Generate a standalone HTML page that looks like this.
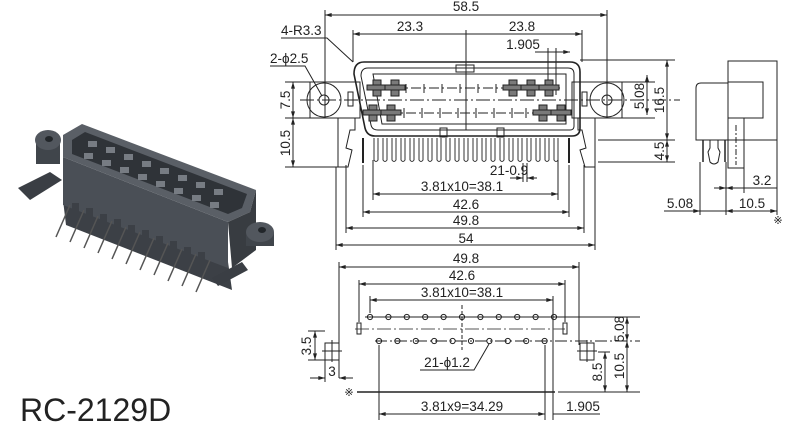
<!DOCTYPE html>
<html><head><meta charset="utf-8"><style>
html,body{margin:0;padding:0;background:#fff;}
svg{display:block;font-family:"Liberation Sans",sans-serif;}
</style></head><body>
<svg width="800" height="431" viewBox="0 0 800 431" xmlns="http://www.w3.org/2000/svg">
<defs>
<marker id="a" viewBox="0 0 10 6" refX="10" refY="3" markerWidth="8" markerHeight="4" orient="auto-start-reverse"><path d="M0,0L10,3L0,6z" fill="#222"/></marker>
</defs>
<g stroke="#222" fill="none" stroke-width="1">
<!-- photo -->
<g stroke="none">
<polygon points="18,188 50,172 62,180 30,200" fill="#3a3e44"/>
<rect x="36" y="140" width="24" height="24" fill="#40454b"/>
<ellipse cx="48" cy="140" rx="13" ry="10" fill="#52575e"/>
<ellipse cx="49" cy="139" rx="4" ry="3" fill="#22262a"/>
<polygon points="63,200 228,262 232,290 66,225" fill="#3c4046"/>
<polygon points="63,157 228,222 228,268 63,205" fill="#4a4f56"/>
<polygon points="63,135 82,124 256,190 250,212 228,222 63,157" fill="#5a5f66"/>
<polygon points="72,140 85,132 247,194 242,208 228,214 72,154" fill="#2f3338"/>
<polygon points="228,222 250,212 256,190 256,250 232,268" fill="#383c41"/>
<rect x="246" y="232" width="28" height="14" fill="#40454b"/>
<ellipse cx="260" cy="232" rx="14" ry="10" fill="#52575e"/>
<ellipse cx="262" cy="230" rx="4" ry="3" fill="#22262a"/>
<polygon points="212,278 242,262 248,270 218,286" fill="#3a3e44"/>
</g>
<g fill="#777c83" stroke="none">
<rect x="88" y="141" width="9" height="6"/><rect x="106" y="147" width="9" height="6"/><rect x="124" y="154" width="9" height="6"/><rect x="142" y="161" width="9" height="6"/><rect x="160" y="168" width="9" height="6"/><rect x="178" y="175" width="9" height="6"/><rect x="196" y="182" width="9" height="6"/><rect x="214" y="189" width="9" height="6"/>
<rect x="84" y="153" width="9" height="6"/><rect x="102" y="160" width="9" height="6"/><rect x="120" y="167" width="9" height="6"/><rect x="138" y="174" width="9" height="6"/><rect x="156" y="181" width="9" height="6"/><rect x="174" y="188" width="9" height="6"/><rect x="192" y="195" width="9" height="6"/><rect x="210" y="202" width="9" height="6"/>
</g>
<g stroke="#555" stroke-width="1.5">
<path d="M70,205 l-14,32 M84,210 l-14,32 M98,216 l-14,32 M112,221 l-14,32 M126,227 l-14,32 M140,232 l-14,32 M154,238 l-14,32 M168,243 l-14,32 M182,249 l-14,32 M196,254 l-14,32 M210,260 l-14,32"/>
</g>
<g fill="#3c4046" stroke="none">
<rect x="72" y="203" width="7" height="12"/><rect x="86" y="208" width="7" height="12"/><rect x="100" y="214" width="7" height="12"/><rect x="114" y="219" width="7" height="12"/><rect x="128" y="225" width="7" height="12"/><rect x="142" y="230" width="7" height="12"/><rect x="156" y="236" width="7" height="12"/><rect x="170" y="241" width="7" height="12"/><rect x="184" y="247" width="7" height="12"/><rect x="198" y="252" width="7" height="12"/>
</g>

<!-- top front view -->
<line x1="325" y1="15" x2="607" y2="15" marker-start="url(#a)" marker-end="url(#a)"/>
<line x1="325" y1="10" x2="325" y2="118"/><line x1="607" y1="10" x2="607" y2="118"/>
<line x1="353" y1="34" x2="582" y2="34" marker-start="url(#a)" marker-end="url(#a)"/>
<line x1="353" y1="30" x2="353" y2="62"/><line x1="582" y1="30" x2="582" y2="62"/>
<line x1="466" y1="30" x2="466" y2="130"/>
<line x1="535" y1="52" x2="570" y2="52" marker-end="url(#a)"/>
<line x1="548" y1="48" x2="548" y2="95"/><line x1="556" y1="48" x2="556" y2="95"/>
<path d="M281,38 L327,38 L353,62"/>
<path d="M270,66 L305,66 L322,96"/>
<rect x="310" y="82" width="50" height="36"/>
<rect x="572" y="82" width="50" height="36"/>
<circle cx="324" cy="100" r="17"/><circle cx="324" cy="100" r="5"/>
<circle cx="607" cy="100" r="17"/><circle cx="607" cy="100" r="5"/>
<rect x="348" y="92" width="5" height="14"/><rect x="582" y="92" width="5" height="14"/>
<path d="M364,62 L570,62 Q580,62 580,72 L580,128 Q580,136 572,136 L375,136 Q367,136 365,128 L354,74 Q354,62 364,62Z" stroke-width="1.6"/>
<path d="M368,68 L568,68 Q574,68 574,74 L574,126 Q574,130 570,130 L378,130 Q372,130 371,125 L361,76 Q361,68 368,68Z"/>
<path d="M373,74 L566,74 L566,124 L382,124 Z"/>
<rect x="456" y="65" width="18" height="7"/>
<rect x="497" y="128" width="7" height="9"/><rect x="440" y="128" width="7" height="9"/>
<line x1="300" y1="100" x2="680" y2="100" stroke-dasharray="14,3,2,3"/>
<line x1="375" y1="88" x2="560" y2="88" stroke-dasharray="10,3,2,3"/>
<line x1="370" y1="113" x2="565" y2="113" stroke-dasharray="10,3,2,3"/>
<path d="M406,84v9 M424,84v9 M442,84v9 M460,84v9 M478,84v9 M496,84v9 M404,108v10 M422,108v10 M440,108v10 M458,108v10 M476,108v10 M494,108v10 M512,108v10 M526,108v10"/>
<g fill="#7a7a7a" stroke="#222">
<rect x="373" y="80" width="8" height="16"/><rect x="367" y="85" width="20" height="5"/>
<rect x="391" y="80" width="8" height="16"/><rect x="385" y="85" width="20" height="5"/>
<rect x="509" y="80" width="8" height="16"/><rect x="503" y="85" width="20" height="5"/>
<rect x="527" y="80" width="8" height="16"/><rect x="521" y="85" width="20" height="5"/>
<rect x="545" y="80" width="8" height="16"/><rect x="539" y="85" width="20" height="5"/>
<rect x="369" y="105" width="8" height="16"/><rect x="363" y="110" width="20" height="5"/>
<rect x="387" y="105" width="8" height="16"/><rect x="381" y="110" width="20" height="5"/>
<rect x="539" y="105" width="8" height="16"/><rect x="533" y="110" width="20" height="5"/>
<rect x="557" y="105" width="8" height="16"/><rect x="551" y="110" width="20" height="5"/>
</g>
<g stroke="#333" stroke-width="1">
<path d="M374,138 v22 q2,3 4,0 v-22 M383,138 v22 q2,3 4,0 v-22 M392,138 v22 q2,3 4,0 v-22 M401,138 v22 q2,3 4,0 v-22 M410,138 v22 q2,3 4,0 v-22 M419,138 v22 q2,3 4,0 v-22 M428,138 v22 q2,3 4,0 v-22 M437,138 v22 q2,3 4,0 v-22 M446,138 v22 q2,3 4,0 v-22 M455,138 v22 q2,3 4,0 v-22 M464,138 v22 q2,3 4,0 v-22 M473,138 v22 q2,3 4,0 v-22 M482,138 v22 q2,3 4,0 v-22 M491,138 v22 q2,3 4,0 v-22 M500,138 v22 q2,3 4,0 v-22 M509,138 v22 q2,3 4,0 v-22 M518,138 v22 q2,3 4,0 v-22 M527,138 v22 q2,3 4,0 v-22 M536,138 v22 q2,3 4,0 v-22 M545,138 v22 q2,3 4,0 v-22 M554,138 v22 q2,3 4,0 v-22"/>
</g>
<line x1="363" y1="138" x2="363" y2="163" stroke-width="2"/><line x1="569" y1="138" x2="569" y2="163" stroke-width="2"/>
<path d="M338,118 L338,167 L348,167 L352,150 L346,148 L350,130 L355,130 L355,118"/>
<path d="M595,118 L595,167 L585,167 L580,150 L586,148 L582,130 L578,130 L578,118"/>
<line x1="373" y1="160" x2="373" y2="200"/><line x1="558" y1="160" x2="558" y2="200"/>
<line x1="523" y1="163" x2="523" y2="182"/><line x1="527" y1="163" x2="527" y2="182"/>
<line x1="510" y1="178" x2="523" y2="178" marker-end="url(#a)"/>
<line x1="527" y1="178" x2="537" y2="178" marker-start="url(#a)"/>
<line x1="373" y1="194" x2="558" y2="194" marker-start="url(#a)" marker-end="url(#a)"/>
<line x1="363" y1="165" x2="363" y2="217"/><line x1="569" y1="165" x2="569" y2="217"/>
<line x1="363" y1="212" x2="569" y2="212" marker-start="url(#a)" marker-end="url(#a)"/>
<line x1="346" y1="165" x2="346" y2="233"/><line x1="584" y1="165" x2="584" y2="233"/>
<line x1="346" y1="228" x2="584" y2="228" marker-start="url(#a)" marker-end="url(#a)"/>
<line x1="336" y1="167" x2="336" y2="250"/><line x1="595" y1="167" x2="595" y2="250"/>
<line x1="336" y1="245" x2="595" y2="245" marker-start="url(#a)" marker-end="url(#a)"/>
<line x1="285" y1="82" x2="310" y2="82"/><line x1="285" y1="118" x2="310" y2="118"/><line x1="285" y1="167" x2="338" y2="167"/>
<line x1="293" y1="82" x2="293" y2="118" marker-start="url(#a)" marker-end="url(#a)"/>
<line x1="293" y1="118" x2="293" y2="167" marker-start="url(#a)" marker-end="url(#a)"/>
<line x1="580" y1="60" x2="675" y2="60"/>
<line x1="622" y1="82" x2="655" y2="82"/><line x1="622" y1="118" x2="655" y2="118"/>
<line x1="598" y1="140" x2="675" y2="140"/><line x1="598" y1="162" x2="675" y2="162"/>
<line x1="647" y1="75" x2="647" y2="100" marker-start="url(#a)"/><line x1="647" y1="88" x2="647" y2="115" marker-end="url(#a)"/>
<line x1="667" y1="60" x2="667" y2="140" marker-start="url(#a)" marker-end="url(#a)"/>
<line x1="667" y1="140" x2="667" y2="162" marker-start="url(#a)" marker-end="url(#a)"/>
<!-- side view -->
<rect x="728" y="61" width="49" height="79"/>
<rect x="728" y="82" width="35" height="36"/>
<path d="M728,140 L696,140 L696,88 Q696,83 701,83 L728,83"/>
<rect x="728" y="118" width="16" height="50"/>
<line x1="736" y1="125" x2="736" y2="165" stroke-dasharray="6,2,2,2"/>
<line x1="703" y1="140" x2="703" y2="162" stroke-width="1.5"/><line x1="725" y1="140" x2="725" y2="162" stroke-width="1.5"/>
<path d="M710,140 v8 l-2,4 l2,10 q4,4 8,0 l2,-10 l-2,-4 v-8"/>
<line x1="700" y1="162" x2="700" y2="215"/><line x1="726" y1="162" x2="726" y2="215"/><line x1="744" y1="168" x2="744" y2="193"/><line x1="777" y1="140" x2="777" y2="215"/>
<line x1="714" y1="188" x2="726" y2="188" marker-end="url(#a)"/>
<line x1="744" y1="188" x2="777" y2="188"/>
<line x1="726" y1="188" x2="744" y2="188" marker-start="url(#a)"/>
<line x1="664" y1="211" x2="700" y2="211" marker-end="url(#a)"/>
<line x1="726" y1="211" x2="777" y2="211" marker-start="url(#a)" marker-end="url(#a)"/>
<line x1="700" y1="211" x2="726" y2="211"/>
<!-- bottom view -->
<line x1="339" y1="267" x2="579" y2="267" marker-start="url(#a)" marker-end="url(#a)"/>
<line x1="339" y1="262" x2="339" y2="378"/><line x1="579" y1="262" x2="579" y2="345"/>
<line x1="359" y1="284" x2="565" y2="284" marker-start="url(#a)" marker-end="url(#a)"/>
<line x1="359" y1="280" x2="359" y2="322"/><line x1="565" y1="280" x2="565" y2="322"/>
<line x1="370" y1="300" x2="553" y2="300" marker-start="url(#a)" marker-end="url(#a)"/>
<line x1="370" y1="296" x2="370" y2="313"/><line x1="553" y1="296" x2="553" y2="420"/>
<line x1="365" y1="317" x2="640" y2="317"/>
<line x1="355" y1="329" x2="565" y2="329" stroke-dasharray="14,3,2,3" stroke="#555"/>
<line x1="375" y1="341" x2="640" y2="341" stroke-dasharray="12,3,2,3"/>
<line x1="462" y1="305" x2="462" y2="350" stroke-dasharray="4,2"/>
<rect x="357" y="323" width="4" height="11"/><rect x="563" y="323" width="4" height="11"/>
<g>
<circle cx="370" cy="317" r="2.6"/><circle cx="388.4" cy="317" r="2.6"/><circle cx="406.8" cy="317" r="2.6"/><circle cx="425.2" cy="317" r="2.6"/><circle cx="443.6" cy="317" r="2.6"/><circle cx="462" cy="317" r="2.6"/><circle cx="480.4" cy="317" r="2.6"/><circle cx="498.8" cy="317" r="2.6"/><circle cx="517.2" cy="317" r="2.6"/><circle cx="535.6" cy="317" r="2.6"/><circle cx="554" cy="317" r="2.6"/>
<circle cx="379" cy="341" r="2.6"/><circle cx="397.4" cy="341" r="2.6"/><circle cx="415.8" cy="341" r="2.6"/><circle cx="434.2" cy="341" r="2.6"/><circle cx="452.6" cy="341" r="2.6"/><circle cx="471" cy="341" r="2.6"/><circle cx="489.4" cy="341" r="2.6"/><circle cx="507.8" cy="341" r="2.6"/><circle cx="526.2" cy="341" r="2.6"/><circle cx="544.6" cy="341" r="2.6"/>
</g>
<path d="M420,370 L474,370 L489,344"/>
<rect x="325" y="343" width="14" height="17"/>
<line x1="332" y1="340" x2="332" y2="362"/><line x1="322" y1="351" x2="342" y2="351"/>
<rect x="580" y="343" width="14" height="17"/>
<line x1="587" y1="340" x2="587" y2="362"/><line x1="577" y1="351" x2="597" y2="351"/>
<line x1="308" y1="331" x2="325" y2="331"/><line x1="308" y1="360" x2="325" y2="360"/>
<line x1="315" y1="331" x2="315" y2="360" marker-start="url(#a)" marker-end="url(#a)"/>
<line x1="325" y1="360" x2="325" y2="382"/>
<line x1="310" y1="378" x2="325" y2="378" marker-end="url(#a)"/>
<line x1="339" y1="378" x2="353" y2="378" marker-start="url(#a)"/>
<line x1="357" y1="392" x2="555" y2="392" stroke-width="1.4"/>
<line x1="558" y1="392" x2="640" y2="392"/>
<line x1="379" y1="345" x2="379" y2="420"/><line x1="545" y1="345" x2="545" y2="420"/>
<line x1="379" y1="414" x2="545" y2="414" marker-start="url(#a)" marker-end="url(#a)"/>
<line x1="553" y1="414" x2="600" y2="414"/>
<line x1="598" y1="352" x2="610" y2="352"/>
<line x1="605" y1="352" x2="605" y2="392" marker-start="url(#a)" marker-end="url(#a)"/>
<line x1="627" y1="317" x2="627" y2="341" marker-start="url(#a)" marker-end="url(#a)"/>
<line x1="627" y1="341" x2="627" y2="392" marker-start="url(#a)" marker-end="url(#a)"/>
</g>

<g fill="#222" font-size="13.5">
<text x="466" y="11" text-anchor="middle">58.5</text>
<text x="410" y="31" text-anchor="middle">23.3</text>
<text x="522" y="31" text-anchor="middle">23.8</text>
<text x="523" y="49" text-anchor="middle">1.905</text>
<text x="281" y="35">4-R3.3</text>
<text x="270" y="63">2-ϕ2.5</text>
<text x="509" y="175" text-anchor="middle">21-0.9</text>
<text x="462" y="191" text-anchor="middle">3.81x10=38.1</text>
<text x="466" y="209" text-anchor="middle">42.6</text>
<text x="466" y="225" text-anchor="middle">49.8</text>
<text x="466" y="243" text-anchor="middle">54</text>
<text transform="translate(290,100) rotate(-90)" text-anchor="middle">7.5</text>
<text transform="translate(290,143) rotate(-90)" text-anchor="middle">10.5</text>
<text transform="translate(644,96) rotate(-90)" text-anchor="middle">5.08</text>
<text transform="translate(664,100) rotate(-90)" text-anchor="middle">16.5</text>
<text transform="translate(664,151) rotate(-90)" text-anchor="middle">4.5</text>
<text x="762" y="185" text-anchor="middle">3.2</text>
<text x="752" y="208" text-anchor="middle">10.5</text>
<text x="680" y="208" text-anchor="middle">5.08</text>
<text x="778" y="224" text-anchor="middle" font-size="11">※</text>
<text x="466" y="263" text-anchor="middle">49.8</text>
<text x="462" y="280" text-anchor="middle">42.6</text>
<text x="462" y="297" text-anchor="middle">3.81x10=38.1</text>
<text x="447" y="367" text-anchor="middle">21-ϕ1.2</text>
<text x="462" y="411" text-anchor="middle">3.81x9=34.29</text>
<text x="583" y="411" text-anchor="middle">1.905</text>
<text x="332" y="376" text-anchor="middle">3</text>
<text transform="translate(311,346) rotate(-90)" text-anchor="middle">3.5</text>
<text transform="translate(602,372) rotate(-90)" text-anchor="middle">8.5</text>
<text transform="translate(624,329) rotate(-90)" text-anchor="middle">5.08</text>
<text transform="translate(624,366) rotate(-90)" text-anchor="middle">10.5</text>
<text x="349" y="396" text-anchor="middle" font-size="11">※</text>
<text x="20" y="421" font-size="32">RC-2129D</text>
</g>
</svg>
</body></html>
